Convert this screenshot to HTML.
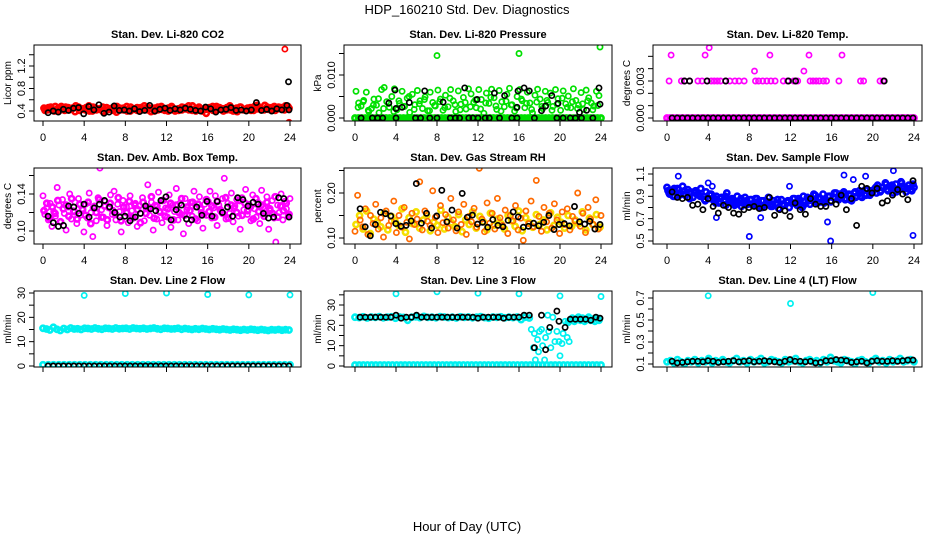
<!DOCTYPE html>
<html><head><meta charset="utf-8">
<style>
html,body{margin:0;padding:0;background:#fff;}
svg{display:block;font-family:"Liberation Sans",Arial,sans-serif;}
</style></head>
<body>
<svg id="chart" width="936" height="540" viewBox="0 0 936 540" xmlns="http://www.w3.org/2000/svg">
<text x="467" y="14" font-size="13" text-anchor="middle">HDP_160210  Std. Dev. Diagnostics</text>
<text x="467" y="531" font-size="13" text-anchor="middle">Hour of Day (UTC)</text>
</svg>
<script>
// ---------- DATA ----------
const xTicks = [0,4,8,12,16,20,24];
const xTickLabels = ["0","4","8","12","16","20","24"];

// Panel 1: CO2
const co2Red = [0.45,0.42,0.47,0.40,0.44,0.48,0.41,0.46,0.43,0.39,0.47,0.44,0.42,0.49,0.40,0.45,0.43,0.47,0.41,0.44,0.46,0.38,0.45,0.42,0.48,0.40,0.44,0.46,0.41,0.43,0.47,0.39,0.45,0.42,0.48,0.44,0.40,0.46,0.43,0.41,0.47,0.44,0.42,0.49,0.40,0.45,0.43,0.36,0.46,0.41,0.48,0.44,0.40,0.46,0.42,0.44,0.39,0.47,0.43,0.45,0.41,0.48,0.44,0.42,0.50,0.43,0.46,0.41,0.47,0.44,0.49,0.45];
const co2Red2 = [0.41,0.46,0.43,0.48,0.40,0.44,0.47,0.42,0.45,0.49,0.41,0.43,0.46,0.40,0.47,0.42,0.44,0.39,0.46,0.43,0.41,0.48,0.42,0.45,0.40,0.47,0.43,0.41,0.46,0.49,0.42,0.45,0.40,0.47,0.43,0.41,0.45,0.48,0.40,0.44,0.42,0.46,0.49,0.41,0.44,0.47,0.40,0.43,0.45,0.48,0.41,0.46,0.44,0.42,0.49,0.40,0.45,0.47,0.42,0.44,0.46,0.41,0.50,0.45,0.42,0.47,0.43,0.48,0.44,0.46,0.42,0.48];
const co2OutHours = [23.5,23.9];
const co2OutVals = [1.5,0.2];
const co2Black = [0.37,0.40,0.38,0.43,0.41,0.45,0.46,0.35,0.48,0.42,0.51,0.36,0.38,0.49,0.41,0.42,0.40,0.44,0.39,0.41,0.50,0.40,0.43,0.45,0.41,0.44,0.42,0.45,0.43,0.41,0.40,0.47,0.44,0.38,0.42,0.43,0.46,0.41,0.42,0.40,0.42,0.55,0.41,0.43,0.40,0.44,0.42,0.50];
const co2BlackOutHours = [23.85,23.9];
const co2BlackOutVals = [0.92,0.42];

// Panel 2: Pressure
const presGreenZero = [0,0,0,0,0,0,0,0,0,0,0,0,0,0,0,0,0,0,0,0,0,0,0,0,0,0,0,0,0,0,0,0,0,0,0,0,0,0,0,0,0,0,0,0,0,0,0,0,0,0,0,0,0,0,0,0,0,0,0,0,0,0,0,0,0,0,0,0,0,0,0,0];
const presGreen = [0.0062,0.0035,0.0028,0.0041,0.0060,0.0015,0.0022,0.0044,0.0030,0.0012,0.0066,0.0071,0.0038,0.0025,0.0050,0.0068,0.0019,0.0034,0.0062,0.0027,0.0046,0.0013,0.0055,0.0031,0.0064,0.0040,0.0022,0.0049,0.0017,0.0060,0.0036,0.0028,0.0065,0.0044,0.0018,0.0053,0.0026,0.0066,0.0040,0.0015,0.0063,0.0032,0.0048,0.0021,0.0068,0.0056,0.0037,0.0024,0.0066,0.0043,0.0011,0.0058,0.0034,0.0067,0.0047,0.0020,0.0064,0.0038,0.0026,0.0055,0.0069,0.0031,0.0016,0.0050,0.0066,0.0040,0.0024,0.0060,0.0035,0.0012,0.0053,0.0067,0.0044,0.0022,0.0062,0.0036,0.0058,0.0027,0.0066,0.0045,0.0018,0.0063,0.0033,0.0051,0.0024,0.0068,0.0041,0.0030,0.0059,0.0020,0.0065,0.0047,0.0035,0.0028,0.0062,0.0052];
const presGreen2 = [0.0025,0.0038,0.0018,0.0030,0.0045,0.0022,0.0034,0.0015,0.0040,0.0027,0.0050,0.0020,0.0033,0.0043,0.0017,0.0029,0.0038,0.0024,0.0046,0.0031,0.0019,0.0036,0.0026,0.0042,0.0021,0.0035,0.0048,0.0028,0.0016,0.0039,0.0030,0.0023,0.0044,0.0034,0.0020,0.0037,0.0027,0.0041,0.0018,0.0032,0.0046,0.0025,0.0038,0.0022,0.0033,0.0040,0.0019,0.0029];
const presOutHours = [8.0,16.0,23.9];
const presOutVals = [0.0145,0.0150,0.0165];
const presBlackZeroHours = [0.6,1.7,2.2,2.7,4.0,5.9,6.4,7.3,8.0,9.3,9.8,10.2,11.1,11.5,12.0,12.7,13.1,14.1,15.3,15.8,17.5,19.7,20.3,21.0,21.5,22.1,23.2];
const presBlackHours = [3.3,3.9,4.0,4.6,5.3,6.8,8.6,10.7,11.9,13.6,14.6,15.8,15.9,16.5,17.0,18.2,18.6,19.2,19.8,21.9,22.6,23.8,23.9];
const presBlackVals = [0.0035,0.0065,0.0022,0.0025,0.0036,0.0063,0.0037,0.0070,0.0043,0.0058,0.0052,0.0025,0.0063,0.0070,0.0063,0.0017,0.0028,0.0052,0.0034,0.0013,0.0018,0.0070,0.0032];

// Panel 3: Li-820 Temp
const tempPinkZero = [0,0,0,0,0,0,0,0,0,0,0,0,0,0,0,0,0,0,0,0,0,0,0,0,0,0,0,0,0,0,0,0,0,0,0,0,0,0,0,0,0,0,0,0,0,0,0,0,0,0,0,0,0,0,0,0,0,0,0,0,0,0,0,0,0,0,0,0,0,0,0,0,0,0,0,0,0,0,0,0];
const tempPinkHours = [0.2,1.4,1.7,2.2,3.0,3.4,3.9,4.3,4.6,4.9,5.2,5.7,6.1,6.6,7.0,7.5,8.6,8.9,9.3,9.7,10.1,10.5,11.3,11.7,12.3,12.7,13.9,14.2,14.5,14.8,15.2,15.5,16.7,18.8,19.1,20.7,21.0,0.4,3.7,4.1,8.5,10.0,13.3,13.8,17.0];
const tempPinkVals = [0.003,0.003,0.003,0.003,0.003,0.003,0.003,0.003,0.003,0.003,0.003,0.003,0.003,0.003,0.003,0.003,0.003,0.003,0.003,0.003,0.003,0.003,0.003,0.003,0.003,0.003,0.003,0.003,0.003,0.003,0.003,0.003,0.003,0.003,0.003,0.003,0.003,0.0051,0.0051,0.0057,0.0038,0.0051,0.0038,0.0051,0.0051];
const tempBlackZero = [0,0,0,0,0,0,0,0,0,0,0,0,0,0,0,0,0,0,0,0,0,0,0,0,0,0,0,0,0,0,0,0,0,0,0,0,0,0,0,0,0,0,0,0,0,0,0,0];
const tempBlackHours = [1.7,2.2,3.9,5.7,11.8,12.5,21.1];
const tempBlackVals = [0.003,0.003,0.003,0.003,0.003,0.003,0.003];

// Panel 4: Amb box temp
const ambPink = [0.138,0.118,0.125,0.112,0.130,0.105,0.121,0.116,0.147,0.128,0.110,0.134,0.119,0.101,0.126,0.140,0.113,0.122,0.131,0.108,0.135,0.117,0.124,0.099,0.129,0.114,0.141,0.120,0.094,0.127,0.111,0.136,0.168,0.123,0.115,0.132,0.106,0.125,0.139,0.118,0.143,0.112,0.129,0.121,0.099,0.133,0.116,0.126,0.109,0.138,0.122,0.114,0.130,0.105,0.127,0.119,0.136,0.111,0.124,0.150,0.117,0.131,0.101,0.128,0.113,0.142,0.120,0.109,0.133,0.125,0.115,0.139,0.104,0.128,0.121,0.146,0.112,0.130,0.118,0.097,0.135,0.123,0.108,0.131,0.116,0.143,0.126,0.111,0.137,0.120,0.103,0.129,0.117,0.132,0.143,0.114,0.125,0.138,0.106,0.128,0.121,0.135,0.157,0.113,0.130,0.119,0.141,0.110,0.127,0.134,0.116,0.102,0.136,0.123,0.145,0.118,0.129,0.111,0.139,0.124,0.115,0.131,0.108,0.144,0.126,0.119,0.137,0.102,0.122,0.133,0.114,0.088,0.128,0.120,0.140,0.112,0.132,0.124,0.116,0.135];
const ambPink2 = [0.122,0.130,0.114,0.126,0.119,0.133,0.110,0.124,0.128,0.116,0.135,0.121,0.113,0.129,0.123,0.117,0.131,0.108,0.125,0.120,0.134,0.115,0.127,0.112,0.130,0.122,0.118,0.136,0.111,0.126,0.120,0.132,0.115,0.128,0.123,0.109,0.131,0.119,0.125,0.137,0.114,0.127,0.121,0.133,0.116,0.124,0.130,0.112,0.128,0.120,0.135,0.117,0.126,0.122,0.131,0.113,0.129,0.124,0.118,0.134,0.121,0.127,0.115,0.132,0.123,0.119,0.136,0.114,0.128,0.125,0.120,0.133,0.117,0.130,0.122,0.126,0.113,0.135,0.121,0.128,0.116,0.131,0.124,0.119,0.137,0.115,0.127,0.122,0.130,0.118];
const ambBlack = [0.116,0.109,0.105,0.106,0.127,0.126,0.119,0.129,0.115,0.125,0.129,0.133,0.126,0.120,0.115,0.116,0.111,0.115,0.119,0.127,0.124,0.122,0.133,0.137,0.112,0.123,0.128,0.113,0.112,0.126,0.117,0.132,0.116,0.132,0.120,0.126,0.116,0.136,0.134,0.127,0.131,0.129,0.119,0.114,0.115,0.136,0.135,0.115];

// Panel 5: Gas stream RH
const rhOrange = [0.115,0.195,0.140,0.125,0.165,0.108,0.150,0.132,0.175,0.120,0.145,0.102,0.160,0.128,0.138,0.182,0.112,0.150,0.124,0.168,0.135,0.098,0.155,0.130,0.142,0.225,0.118,0.160,0.137,0.128,0.205,0.146,0.112,0.172,0.134,0.152,0.122,0.188,0.140,0.116,0.158,0.130,0.175,0.108,0.148,0.136,0.166,0.124,0.255,0.142,0.114,0.178,0.133,0.155,0.120,0.188,0.145,0.128,0.162,0.110,0.150,0.138,0.172,0.118,0.144,0.095,0.160,0.132,0.182,0.125,0.228,0.148,0.115,0.168,0.136,0.155,0.122,0.176,0.140,0.110,0.158,0.130,0.165,0.118,0.148,0.138,0.200,0.126,0.155,0.112,0.168,0.142,0.130,0.185,0.120,0.150];
const rhYellow = [0.130,0.150,0.120,0.160,0.110,0.142,0.135,0.125,0.155,0.118,0.148,0.138,0.128,0.165,0.113,0.145,0.132,0.158,0.122,0.140,0.150,0.116,0.135,0.128,0.162,0.120,0.146,0.134,0.125,0.152,0.114,0.140,0.130,0.158,0.122,0.148,0.136,0.118,0.155,0.128,0.142,0.132,0.120,0.150,0.138,0.126,0.160,0.116,0.145,0.134,0.124,0.152,0.130,0.140,0.118,0.156,0.128,0.146,0.135,0.122,0.150,0.126,0.140,0.132,0.158,0.118,0.144,0.130,0.152,0.124];
const rhBlack = [0.165,0.125,0.105,0.130,0.157,0.154,0.149,0.132,0.126,0.128,0.138,0.221,0.133,0.155,0.122,0.149,0.206,0.136,0.162,0.122,0.199,0.146,0.151,0.131,0.135,0.124,0.141,0.128,0.125,0.139,0.158,0.147,0.124,0.126,0.133,0.127,0.135,0.150,0.119,0.130,0.132,0.127,0.170,0.136,0.131,0.137,0.120,0.130];

// Panel 6: Sample flow
const flowBlue = [0.98,0.92,0.95,0.90,0.97,0.93,0.99,0.91,0.96,0.94,0.89,0.95,0.92,0.97,0.90,0.94,0.88,0.92,0.86,0.90,0.84,0.89,0.87,0.93,0.85,0.88,0.82,0.90,0.86,0.84,0.89,0.83,0.87,0.82,0.88,0.85,0.80,0.86,0.83,0.89,0.81,0.86,0.84,0.79,0.87,0.82,0.85,0.80,0.84,0.88,0.82,0.86,0.80,0.85,0.89,0.83,0.87,0.91,0.84,0.88,0.92,0.86,0.90,0.85,0.89,0.93,0.87,0.91,0.94,0.88,0.92,0.86,0.93,0.90,0.95,0.89,0.92,0.96,0.91,0.94,0.97,1.00,0.94,0.98,1.02,0.95,0.99,0.93,1.01,0.96,1.03,0.97,0.94,1.00,0.96,0.98];
const flowBlue2 = [0.93,0.97,0.91,0.95,0.88,0.93,0.90,0.86,0.91,0.84,0.88,0.82,0.87,0.85,0.81,0.86,0.83,0.88,0.80,0.85,0.83,0.87,0.82,0.85,0.88,0.84,0.90,0.86,0.92,0.88,0.84,0.90,0.93,0.89,0.92,0.87,0.94,0.90,0.96,0.92,0.98,0.95,1.01,0.97,0.94,1.02,0.97,0.95];
const flowBlue3 = [0.95,0.90,0.96,0.92,0.89,0.94,0.91,0.87,0.92,0.88,0.85,0.90,0.86,0.83,0.88,0.84,0.87,0.82,0.86,0.84,0.81,0.87,0.83,0.86,0.84,0.88,0.82,0.87,0.85,0.89,0.86,0.90,0.88,0.92,0.87,0.91,0.89,0.93,0.91,0.95,0.93,0.98,0.96,1.00,0.95,0.99,0.97,1.01];
const flowOutHours = [1.1,4.0,4.4,8.0,15.6,15.9,17.2,18.1,19.3,22.0,23.9,11.9,9.1,4.8];
const flowOutVals = [1.08,1.02,0.99,0.54,0.67,0.50,1.09,1.05,1.08,1.13,0.55,0.99,0.71,0.71];
const flowBlack = [0.94,0.89,0.88,0.89,0.82,0.83,0.78,0.88,0.81,0.75,0.82,0.80,0.75,0.74,0.78,0.80,0.81,0.79,0.80,0.89,0.73,0.78,0.77,0.72,0.84,0.78,0.74,0.88,0.83,0.81,0.81,0.86,0.83,0.91,0.78,0.88,0.64,0.99,0.97,0.93,0.97,0.84,0.86,0.91,0.96,0.92,0.87,1.04];

// Panel 7: Line 2 flow
const line2Cyan = [15.5,15.2,14.8,15.9,15.1,14.6,15.4,15.0,15.6,15.2,15.3,15.0,15.5,15.4,15.2,15.6,15.3,15.1,15.5,15.4,15.2,15.6,15.3,15.4,15.5,15.2,15.6,15.4,15.3,15.5,15.2,15.4,15.6,15.3,15.1,15.5,15.4,15.2,15.3,15.5,15.1,15.4,15.2,15.0,15.3,15.1,15.4,15.2,15.0,15.3,15.1,14.9,15.2,15.0,14.8,15.1,14.9,14.7,15.0,14.8,15.1,14.9,14.7,15.0,14.8,14.6,14.9,14.8,15.0,14.7,14.9,14.8];
const line2CyanZero = [0.5,0.5,0.5,0.5,0.5,0.5,0.5,0.5,0.5,0.5,0.5,0.5,0.5,0.5,0.5,0.5,0.5,0.5,0.5,0.5,0.5,0.5,0.5,0.5,0.5,0.5,0.5,0.5,0.5,0.5,0.5,0.5,0.5,0.5,0.5,0.5,0.5,0.5,0.5,0.5,0.5,0.5,0.5,0.5,0.5,0.5,0.5,0.5];
const line2OutHours = [4.0,8.0,12.0,16.0,20.0,24.0];
const line2OutVals = [29.0,29.8,30.0,29.4,29.2,29.2];
const line2Black = [0,0,0,0,0,0,0,0,0,0,0,0,0,0,0,0,0,0,0,0,0,0,0,0,0,0,0,0,0,0,0,0,0,0,0,0,0,0,0,0,0,0,0,0,0,0,0,0];

// Panel 8: Line 3 flow
const line3Cyan = [24.0,23.8,24.2,23.6,24.1,23.9,24.3,23.7,24.0,24.2,23.5,24.1,23.9,22.5,24.0,24.2,23.8,24.4,23.9,24.0,23.7,24.3,24.1,23.8,24.0,23.6,24.2,23.9,24.1,23.7,24.0,24.3,23.8,23.5,24.1,23.9,24.2,23.7,24.0,23.8,24.1,22.8,24.0,23.6];
const line3Cyan2Hours = [20.8,21.0,21.2,21.4,21.6,21.8,22.0,22.2,22.4,22.6,22.8,23.0,23.2,23.4,23.6,23.8];
const line3Cyan2Vals = [21.5,22.5,23.5,22.0,23.0,24.0,22.5,23.5,22.0,23.0,24.0,22.5,23.0,22.0,23.5,22.5];
const line3DipHours = [17.2,17.4,17.5,17.6,17.8,17.9,18.0,18.2,18.3,18.5,18.6,18.8,18.9,19.1,19.3,19.5,19.7,19.9,20.0,20.2,20.3,20.5,20.7,20.9];
const line3DipVals = [18,9,16,3,13,7,17,18,10,3,14,25,17,9,24,12,17,12,5,11,16,22,14,12];
const line3CyanZero = [0.5,0.5,0.5,0.5,0.5,0.5,0.5,0.5,0.5,0.5,0.5,0.5,0.5,0.5,0.5,0.5,0.5,0.5,0.5,0.5,0.5,0.5,0.5,0.5,0.5,0.5,0.5,0.5,0.5,0.5,0.5,0.5,0.5,0.5,0.5,0.5,0.5,0.5,0.5,0.5,0.5,0.5,0.5,0.5,0.5,0.5,0.5,0.5,0.5,0.5,0.5,0.5,0.5,0.5,0.5,0.5,0.5,0.5,0.5,0.5];
const line3OutHours = [4.0,8.0,12.0,16.0,20.0,24.0];
const line3OutVals = [35.5,36.5,35.8,35.5,34.5,34.2];
const line3BlackHours = [0.5,1.0,1.5,2.0,2.5,3.0,3.5,4.0,4.5,5.0,5.5,6.0,6.5,7.0,7.5,8.0,8.5,9.0,9.5,10.0,10.5,11.0,11.5,12.0,12.5,13.0,13.5,14.0,14.5,15.0,15.5,16.0,16.5,17.0,17.5,18.2,18.6,19.0,19.7,19.9,20.5,21.0,21.5,22.0,22.5,23.0,23.5,23.9];
const line3BlackVals = [24,24,24,24,24,24,24,25,23.5,24,24,25,24,24,24,24,24,24,24,24,24,24,24,23.5,24,24,24,24,23.5,24,24,24,25,25,9,25,8,19,27,22,19,23,23,23,23,22.5,24,23.5];

// Panel 9: Line 4 (LT) flow
const line4Cyan = [0.12,0.13,0.11,0.14,0.12,0.10,0.13,0.12,0.14,0.11,0.13,0.12,0.15,0.11,0.13,0.12,0.14,0.12,0.11,0.13,0.15,0.12,0.13,0.11,0.14,0.12,0.13,0.15,0.11,0.12,0.14,0.13,0.12,0.11,0.14,0.12,0.13,0.15,0.12,0.11,0.13,0.14,0.12,0.13,0.11,0.14,0.12,0.16,0.13,0.12,0.11,0.14,0.13,0.12,0.10,0.13,0.14,0.12,0.11,0.13,0.15,0.12,0.13,0.11,0.14,0.12,0.13,0.15,0.12,0.13,0.14,0.12];
const line4OutHours = [4.0,12.0,20.0];
const line4OutVals = [0.72,0.65,0.75];
const line4Black = [0.125,0.110,0.115,0.120,0.125,0.125,0.120,0.130,0.125,0.115,0.120,0.125,0.130,0.120,0.125,0.130,0.120,0.125,0.130,0.125,0.120,0.115,0.125,0.140,0.125,0.125,0.120,0.125,0.110,0.115,0.130,0.130,0.140,0.135,0.130,0.115,0.120,0.125,0.110,0.125,0.130,0.125,0.125,0.130,0.125,0.130,0.135,0.135];

// ---------- LAYOUT ----------
const svg = document.getElementById('chart');
const NS = 'http://www.w3.org/2000/svg';
const colLeft = [34, 344, 653];
const colX0 = [43, 355, 667];
const colX24 = [290, 601, 914];
const rowTop = [45, 168, 291];
const rowBottom = [121, 244, 367];
const boxW = [267, 268, 269];

function mk(tag, attrs, parent) {
  const e = document.createElementNS(NS, tag);
  for (const k in attrs) e.setAttribute(k, attrs[k]);
  (parent || svg).appendChild(e);
  return e;
}
function evenHours(n, a, b) {
  const out = [];
  for (let i = 0; i < n; i++) out.push(a + (b - a) * i / (n - 1));
  return out;
}

function makePanel(p) {
  const g = mk('g', {});
  
  
  const left = colLeft[p.col], right = colLeft[p.col] + boxW[p.col];
  const top = rowTop[p.row], bottom = rowBottom[p.row];
  const xs = h => colX0[p.col] + (colX24[p.col] - colX0[p.col]) * h / 24;
  const ys = v => p.y0px - (v - p.v0) * (p.y0px - p.y1px) / (p.v1 - p.v0);
  const t = mk('text', {x: (left + right) / 2, y: top - 7, 'font-size': 11, 'font-weight': 'bold', 'text-anchor': 'middle'}, g);
  t.textContent = p.title;
  
  
  const cid = 'clip' + p.row + p.col;
  const cp = mk('clipPath', {id: cid}, g);
  mk('rect', {x: left, y: top, width: right - left, height: bottom - top}, cp);
  const pts = mk('g', {'clip-path': 'url(#' + cid + ')'}, g);
  
  
  p.series.forEach(s => {
    const hrs = s.hours || evenHours(s.vals.length, s.a, s.b);
    const sw = s.dense ? 2.6 : 1.7;
    s.vals.forEach((v, i) => {
      const c = mk('circle', {cx: xs(hrs[i]).toFixed(1), cy: ys(v).toFixed(1), r: 2.6, fill: 'none', stroke: s.color, 'stroke-width': sw}, pts);
      
      
    });
  });
  const box = mk('rect', {x: left, y: top, width: right - left, height: bottom - top, fill: 'none', stroke: '#000', 'stroke-width': 1}, g);
  
  
  const xa = mk('g', {}, g);
  
  
  mk('line', {x1: xs(0), x2: xs(24), y1: bottom, y2: bottom, stroke: '#000'}, xa);
  xTicks.forEach((h, i) => {
    mk('line', {x1: xs(h), x2: xs(h), y1: bottom, y2: bottom + 5, stroke: '#000'}, xa);
    if (p.row < 2) {
      const tl = mk('text', {x: xs(h), y: bottom + 20, 'font-size': 11, 'text-anchor': 'middle'}, xa);
      tl.textContent = xTickLabels[i];
      
      
    }
  });
  const ya = mk('g', {}, g);
  
  
  mk('line', {x1: left, x2: left, y1: ys(p.ticks[0]), y2: ys(p.ticks[p.ticks.length - 1]), stroke: '#000'}, ya);
  p.ticks.forEach(v => {
    mk('line', {x1: left - 5, x2: left, y1: ys(v), y2: ys(v), stroke: '#000'}, ya);
  });
  p.labelTicks.forEach((v, i) => {
    const yy = ys(v);
    const tl = mk('text', {x: left - 9, y: yy, 'font-size': 11, 'text-anchor': 'middle', transform: 'rotate(-90 ' + (left - 9) + ' ' + yy + ')'}, ya);
    tl.textContent = p.labelTexts[i];
    
    
  });
  const yl = mk('text', {x: left - 23, y: (top + bottom) / 2, 'font-size': 10, 'text-anchor': 'middle', transform: 'rotate(-90 ' + (left - 23) + ' ' + (top + bottom) / 2 + ')'}, ya);
  yl.textContent = p.ylab;
  
  
}

const RED = '#ff0000', BLK = '#000000', GRN = '#00e000', MAG = '#ff00ff', BLU = '#0000ff', CYN = '#00f0f0', ORG = '#ff6a00', YEL = '#f5e000';

makePanel({name: 'panel-co2', row: 0, col: 0, title: 'Stan. Dev. Li-820 CO2', ylab: 'Licor ppm',
  v0: 0.4, y0px: 111, v1: 1.2, y1px: 66, ticks: [0.4,0.6,0.8,1.0,1.2,1.4], labelTicks: [0.4,0.8,1.2], labelTexts: ['0.4','0.8','1.2'],
  series: [{vals: co2Red, a: 0.1, b: 23.9, color: RED, label: 'co2-sd', dense: true}, {vals: co2Red2, a: 0.2, b: 23.8, color: RED, label: 'co2-sd', dense: true},
    {vals: co2OutVals, hours: co2OutHours, color: RED, label: 'co2-sd'},
    {vals: co2Black, a: 0.5, b: 23.7, color: BLK, label: 'co2-hourly'}, {vals: co2BlackOutVals, hours: co2BlackOutHours, color: BLK, label: 'co2-hourly'}]});

makePanel({name: 'panel-pressure', row: 0, col: 1, title: 'Stan. Dev. Li-820 Pressure', ylab: 'kPa',
  v0: 0, y0px: 118, v1: 0.010, y1px: 75, ticks: [0,0.005,0.010,0.015], labelTicks: [0,0.010], labelTexts: ['0.000','0.010'],
  series: [{vals: presGreenZero, a: 0, b: 24, color: GRN, label: 'pressure-sd', dense: true}, {vals: presGreen, a: 0.1, b: 23.8, color: GRN, label: 'pressure-sd'},
    {vals: presGreen2, a: 0.3, b: 23.7, color: GRN, label: 'pressure-sd'},
    {vals: presOutVals, hours: presOutHours, color: GRN, label: 'pressure-sd'},
    {vals: presBlackZeroHours.map(() => 0), hours: presBlackZeroHours, color: BLK, label: 'pressure-hourly'},
    {vals: presBlackVals, hours: presBlackHours, color: BLK, label: 'pressure-hourly'}]});

makePanel({name: 'panel-li820-temp', row: 0, col: 2, title: 'Stan. Dev. Li-820 Temp.', ylab: 'degrees C',
  v0: 0, y0px: 118, v1: 0.003, y1px: 81, ticks: [0,0.001,0.002,0.003,0.004,0.005], labelTicks: [0,0.003], labelTexts: ['0.000','0.003'],
  series: [{vals: tempPinkZero, a: 0, b: 24, color: MAG, label: 'temp-sd', dense: true}, {vals: tempPinkVals, hours: tempPinkHours, color: MAG, label: 'temp-sd'},
    {vals: tempBlackZero, a: 0.5, b: 23.9, color: BLK, label: 'temp-hourly'}, {vals: tempBlackVals, hours: tempBlackHours, color: BLK, label: 'temp-hourly'}]});

makePanel({name: 'panel-amb-temp', row: 1, col: 0, title: 'Stan. Dev. Amb. Box Temp.', ylab: 'degrees C',
  v0: 0.10, y0px: 231, v1: 0.14, y1px: 194, ticks: [0.10,0.12,0.14,0.16], labelTicks: [0.10,0.14], labelTexts: ['0.10','0.14'],
  series: [{vals: ambPink, a: 0, b: 24, color: MAG, label: 'amb-sd'}, {vals: ambPink2, a: 0.1, b: 23.9, color: MAG, label: 'amb-sd', dense: true},
    {vals: ambBlack, a: 0.5, b: 23.9, color: BLK, label: 'amb-hourly'}]});

makePanel({name: 'panel-gas-rh', row: 1, col: 1, title: 'Stan. Dev. Gas Stream RH', ylab: 'percent',
  v0: 0.10, y0px: 238, v1: 0.20, y1px: 193, ticks: [0.10,0.15,0.20,0.25], labelTicks: [0.10,0.20], labelTexts: ['0.10','0.20'],
  series: [{vals: rhYellow, a: 0.1, b: 23.9, color: YEL, label: 'rh-sd', dense: true}, {vals: rhOrange, a: 0, b: 24, color: ORG, label: 'rh-sd'},
    {vals: rhBlack, a: 0.5, b: 23.9, color: BLK, label: 'rh-hourly'}]});

makePanel({name: 'panel-sample-flow', row: 1, col: 2, title: 'Stan. Dev. Sample Flow', ylab: 'ml/min',
  v0: 0.5, y0px: 241, v1: 1.1, y1px: 174, ticks: [0.5,0.6,0.7,0.8,0.9,1.0,1.1], labelTicks: [0.5,0.7,0.9,1.1], labelTexts: ['0.5','0.7','0.9','1.1'],
  series: [{vals: flowBlue, a: 0, b: 24, color: BLU, label: 'flow-sd', dense: true}, {vals: flowBlue2, a: 0.2, b: 23.8, color: BLU, label: 'flow-sd', dense: true},
    {vals: flowBlue3, a: 0.1, b: 23.9, color: BLU, label: 'flow-sd', dense: true},
    {vals: flowOutVals, hours: flowOutHours, color: BLU, label: 'flow-sd'},
    {vals: flowBlack, a: 0.5, b: 23.9, color: BLK, label: 'flow-hourly'}]});

makePanel({name: 'panel-line2-flow', row: 2, col: 0, title: 'Stan. Dev. Line 2 Flow', ylab: 'ml/min',
  v0: 0, y0px: 366, v1: 30, y1px: 293, ticks: [0,5,10,15,20,25,30], labelTicks: [0,10,20,30], labelTexts: ['0','10','20','30'],
  series: [{vals: line2Cyan, a: 0, b: 23.9, color: CYN, label: 'line2-sd', dense: true}, {vals: line2CyanZero, a: 0, b: 24, color: CYN, label: 'line2-sd', dense: true},
    {vals: line2OutVals, hours: line2OutHours, color: CYN, label: 'line2-sd'},
    {vals: line2Black, a: 0.5, b: 23.9, color: BLK, label: 'line2-hourly'}]});

makePanel({name: 'panel-line3-flow', row: 2, col: 1, title: 'Stan. Dev. Line 3 Flow', ylab: 'ml/min',
  v0: 0, y0px: 366, v1: 30, y1px: 305, ticks: [0,5,10,15,20,25,30,35], labelTicks: [0,10,20,30], labelTexts: ['0','10','20','30'],
  series: [{vals: line3Cyan, a: 0, b: 17.0, color: CYN, label: 'line3-sd', dense: true}, {vals: line3Cyan2Vals, hours: line3Cyan2Hours, color: CYN, label: 'line3-sd', dense: true},
    {vals: line3DipVals, hours: line3DipHours, color: CYN, label: 'line3-sd'}, {vals: line3CyanZero, a: 0, b: 24, color: CYN, label: 'line3-sd', dense: true},
    {vals: line3OutVals, hours: line3OutHours, color: CYN, label: 'line3-sd'},
    {vals: line3BlackVals, hours: line3BlackHours, color: BLK, label: 'line3-hourly'}]});

makePanel({name: 'panel-line4-flow', row: 2, col: 2, title: 'Stan. Dev. Line 4 (LT) Flow', ylab: 'ml/min',
  v0: 0.1, y0px: 364, v1: 0.7, y1px: 298, ticks: [0.1,0.2,0.3,0.4,0.5,0.6,0.7], labelTicks: [0.1,0.3,0.5,0.7], labelTexts: ['0.1','0.3','0.5','0.7'],
  series: [{vals: line4Cyan, a: 0, b: 24, color: CYN, label: 'line4-sd', dense: true}, {vals: line4OutVals, hours: line4OutHours, color: CYN, label: 'line4-sd'},
    {vals: line4Black, a: 0.5, b: 23.9, color: BLK, label: 'line4-hourly'}]});
</script>
</body></html>
